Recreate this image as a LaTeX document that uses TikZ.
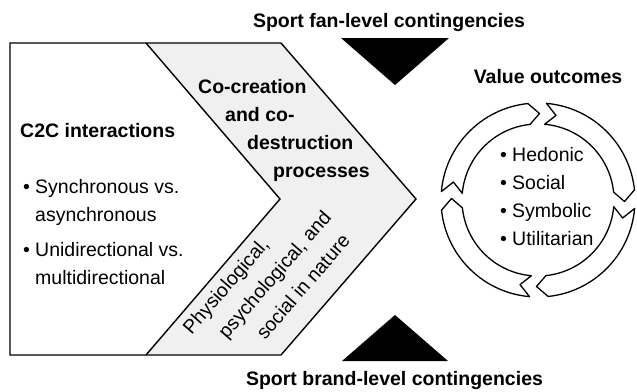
\documentclass[tikz,border=0pt]{standalone}
\usepackage{fontspec}
\setmainfont{Liberation Sans}
\definecolor{chevgray}{gray}{0.94}

\begin{document}
\begin{tikzpicture}[x=1pt,y=-1pt,
  txt/.style={font=\fontsize{19.5}{27.7}\selectfont, inner sep=0pt},
  bold/.style={txt, font=\fontsize{19.5}{27.7}\selectfont\bfseries},
  ringpiece/.style={draw, fill=white, line width=1.3pt, line join=round}]
  \useasboundingbox (0,0) rectangle (637,391);
  % box and chevron
  \fill[chevgray] (146,43) -- (281,43) -- (416,199) -- (281,355) -- (146,355) -- (280,199) -- cycle;
  \draw[line width=1.4pt] (10,43) -- (281,43) -- (416,199) -- (281,355) -- (10,355) -- cycle;
  \draw[line width=1.4pt] (146,43) -- (280,199) -- (146,355);
  % contingency triangles
  \fill (341,38) -- (449,38) -- (395,85) -- cycle;
  \fill (342,361) -- (448,361) -- (395,315) -- cycle;
  \node[bold, anchor=base] (fan) at (389,27.5) {Sport fan-level contingencies};
  \node[bold, anchor=base] (brand) at (394.5,385) {Sport brand-level contingencies};
  % left box text (base = last line)
  \node[bold, anchor=base west] (c2c) at (20,137) {C2C interactions};
  \node[txt, align=left, anchor=base west] (c2clist) at (23,284)
    {\makebox[12pt][l]{\textbullet}Synchronous vs.\\\hspace*{12pt}asynchronous\\[7.5pt]
     \makebox[12pt][l]{\textbullet}Unidirectional vs.\\\hspace*{12pt}multidirectional};
  \node[bold, align=left, anchor=base west] (cocreate) at (198,177)
    {Co-creation\\\hspace*{27pt}and co-\\\hspace*{49pt}destruction\\\hspace*{75pt}processes};
  \node[txt, align=left, rotate=49, anchor=base west, font=\fontsize{19.5}{29.5}\selectfont]
    (nature) at (236,374)
    {Physiological,\\\hspace*{20pt}psychological, and\\\hspace*{44pt}social in nature};
  % value ring, four arrows running clockwise
  \begin{scope}[shift={(538,200)}, yscale=-1]
    \foreach \g in {87,-3,-93,177}{
      \draw[ringpiece] ({\g-2}:97) arc[start angle={\g-2}, end angle={\g-81}, radius=97]
        -- ({\g-88}:86.5) -- ({\g-81}:76) arc[start angle={\g-81}, end angle={\g-2}, radius=76]
        -- ({\g-9}:86.5) -- cycle;
    }
  \end{scope}
  \node[bold, anchor=base] (value) at (548,83) {Value outcomes};
  \node[txt, align=left, anchor=base west] (vlist) at (500,245)
    {\makebox[12pt][l]{\textbullet}Hedonic\\\makebox[12pt][l]{\textbullet}Social\\
     \makebox[12pt][l]{\textbullet}Symbolic\\\makebox[12pt][l]{\textbullet}Utilitarian};
\end{tikzpicture}
\end{document}
